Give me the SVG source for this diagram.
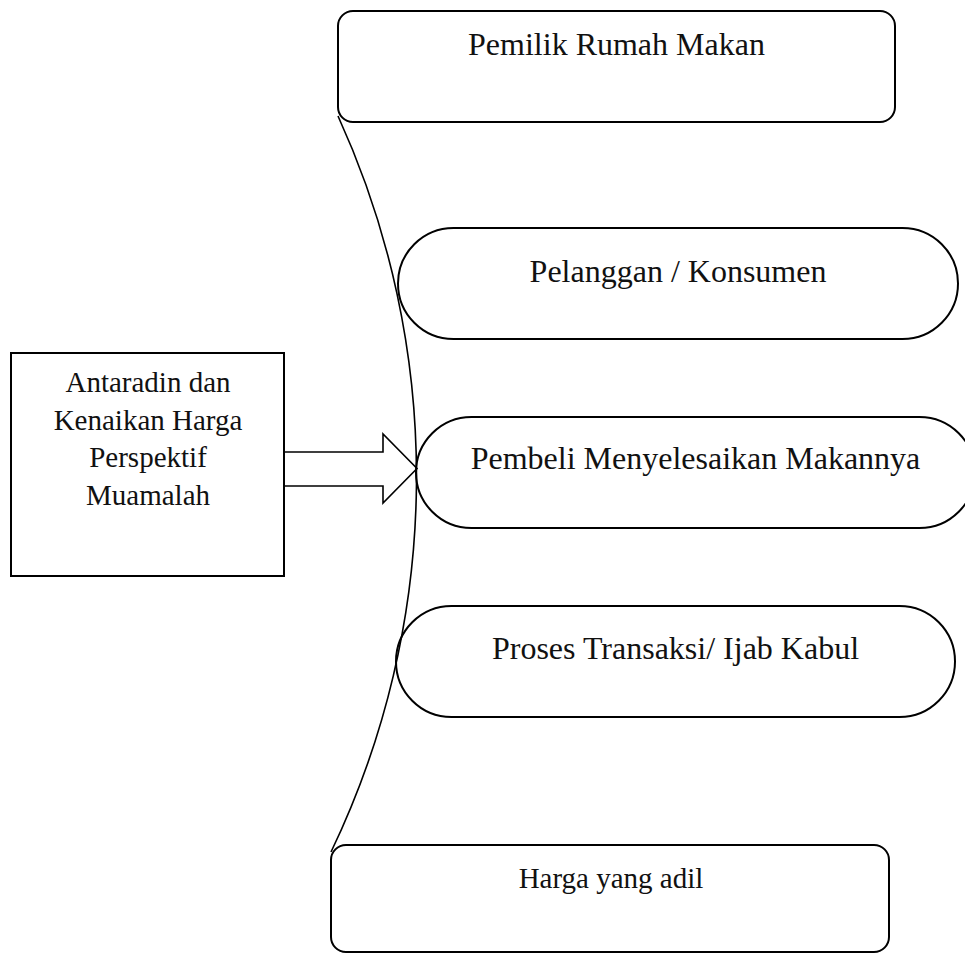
<svg xmlns="http://www.w3.org/2000/svg" width="965" height="954" viewBox="0 0 965 954">
<style>
.box{fill:none;stroke:#000;stroke-width:2}
.t{font-family:"Liberation Serif","Times New Roman",serif;fill:#111;text-anchor:middle}
.big{font-size:32px}
.sm{font-size:29px}
.conn{fill:none;stroke:#000;stroke-width:1.6}
</style>
<rect width="965" height="954" fill="#fff"/>
<g id="pemilik">
<rect class="box" x="338" y="11" width="557" height="111" rx="15" ry="15"/>
<text class="t big" x="616.5" y="55">Pemilik Rumah Makan</text>
</g>
<g id="pelanggan">
<rect class="box" x="398" y="228" width="560" height="111" rx="55.5" ry="55.5"/>
<text class="t big" x="678" y="282">Pelanggan / Konsumen</text>
</g>
<g id="pembeli">
<rect class="box" x="416" y="417" width="559" height="111" rx="55.5" ry="55.5"/>
<text class="t big" x="695.5" y="469">Pembeli Menyelesaikan Makannya</text>
</g>
<g id="proses">
<rect class="box" x="396" y="606" width="559" height="111" rx="55.5" ry="55.5"/>
<text class="t big" x="675.5" y="659">Proses Transaksi/ Ijab Kabul</text>
</g>
<g id="harga">
<rect class="box" x="331" y="845" width="558" height="107" rx="15" ry="15"/>
<text class="t sm" x="611" y="888">Harga yang adil</text>
</g>
<g id="antaradin">
<rect class="box" x="11" y="353" width="273" height="223"/>
<text class="t sm" x="148" y="392">Antaradin dan</text>
<text class="t sm" x="148" y="429.5">Kenaikan Harga</text>
<text class="t sm" x="148" y="467">Perspektif</text>
<text class="t sm" x="148" y="504.5">Muamalah</text>
</g>
<g id="connectors">
<path class="conn" d="M338,116 A867.2,867.2 0 0 1 331,852"/>
<polygon class="conn" fill="#fff" points="284,452 383,452 383,434 417,468.5 383,503 383,486 284,486"/>
</g>
</svg>
